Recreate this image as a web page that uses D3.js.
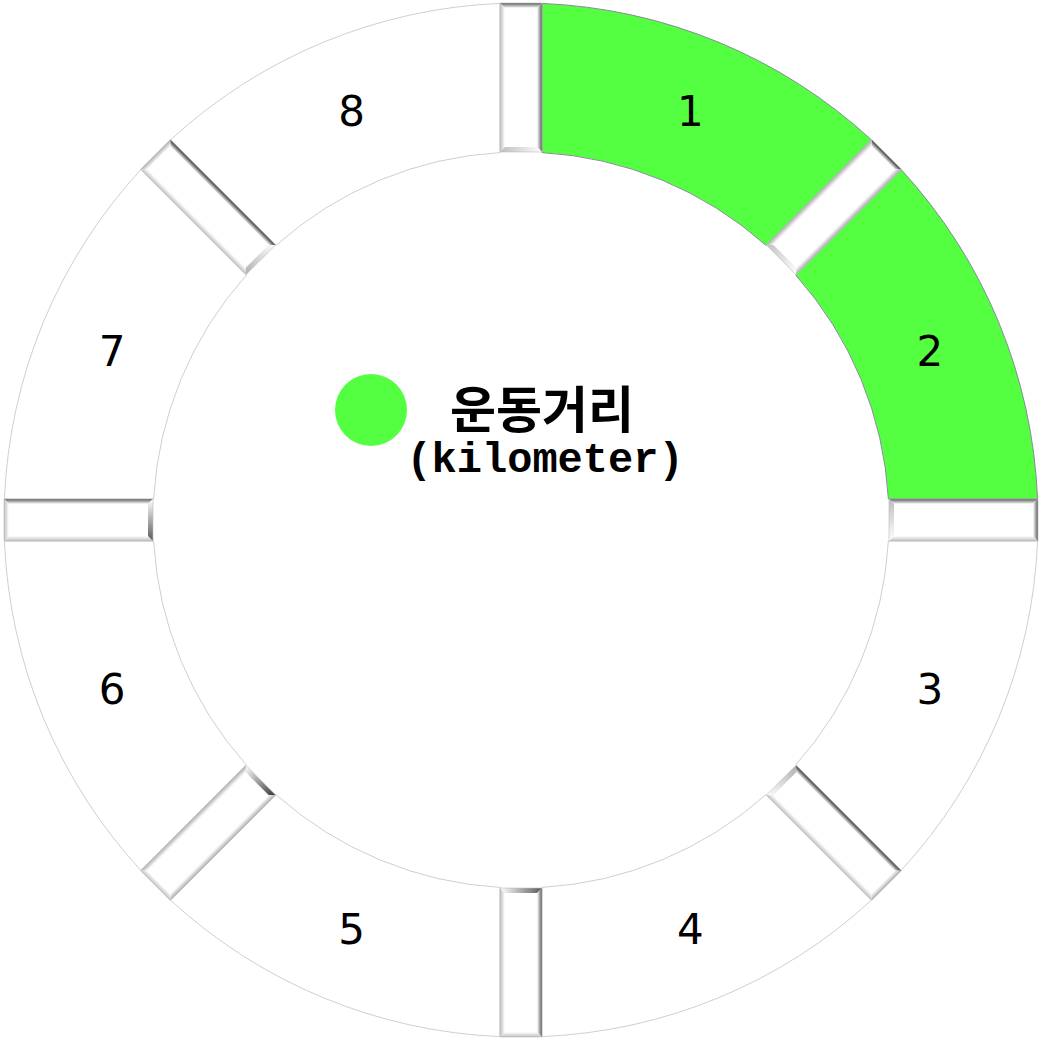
<!DOCTYPE html>
<html><head><meta charset="utf-8">
<script src="https://cdn.jsdelivr.net/npm/d3@7"></script>
<style>html,body{margin:0;padding:0;background:#fff;overflow:hidden}</style>
</head><body>
<svg id="chart" width="1043" height="1042"></svg>
<script>
const categories = ["1","2","3","4","5","6","7","8"];
const values = [1,1,1,1,1,1,1,1];
const active = [true,true,false,false,false,false,false,false];
const legendTitle = "운동거리";
const legendUnit = "(kilometer)";

const cx = 521, cy = 520, outerR = 517, innerR = 368, halfGap = 21, chamfer = 5;
const green = "#53ff40";

const svg = d3.select("#chart");
const defs = svg.append("defs");

const pie = d3.pie().sort(null).value(d=>d).startAngle(0).endAngle(2*Math.PI);
const arcs = pie(values);
const padAngle = 2*Math.asin(halfGap/outerR);
const arc = d3.arc().innerRadius(innerR).outerRadius(outerR).padAngle(padAngle).padRadius(outerR);

const g = svg.append("g").attr("transform",`translate(${cx},${cy})`);
g.selectAll("path.seg").data(arcs).join("path").attr("class","seg")
  .attr("d",arc)
  .attr("fill",(d,i)=>active[i]?green:"#fff")
  .attr("stroke",(d,i)=>active[i]?"#8a8a9a":"#cfcfcf").attr("stroke-width",1);

// shade for a face given its screen-space outward normal
function shade(nx, ny){
  const t = nx*0.707 + ny*(-0.707);
  const v = t>0 ? 175 - 120*t : 175 + 20*(-t);
  return d3.rgb(v,v,v).formatHex();
}

// gap bars with bevel faces
const bars = g.append("g");
let gid = 0;
arcs.forEach(d=>{
  const aDeg = d.startAngle*180/Math.PI;
  const a = d.startAngle;
  const bg = bars.append("g").attr("transform",`rotate(${aDeg})`);
  const x0=-halfGap, x1=halfGap, y0=-outerR, y1=-innerR, c=chamfer;
  bg.append("rect").attr("x",x0).attr("y",y0).attr("width",x1-x0).attr("height",y1-y0).attr("fill","#fff");
  // local normal -> screen normal: rotate by a (clockwise in screen)
  const faces = [
    {pts:[[x0,y0],[x0+c,y0+c],[x0+c,y1-c],[x0,y1]], n:[-1,0], gx:[0,1,0,0]},
    {pts:[[x1,y0],[x1-c,y0+c],[x1-c,y1-c],[x1,y1]], n:[1,0], gx:[1,0,0,0]},
    {pts:[[x0,y0],[x1,y0],[x1-c,y0+c],[x0+c,y0+c]], n:[0,-1], gx:[0,0,0,1]},
    {pts:[[x0,y1],[x1,y1],[x1-c,y1-c],[x0+c,y1-c]], n:[0,1], gx:[0,1,0,0]}
  ];
  faces.forEach(fc=>{
    const nx = fc.n[0]*Math.cos(a) - fc.n[1]*Math.sin(a);
    const ny = fc.n[0]*Math.sin(a) + fc.n[1]*Math.cos(a);
    const col = shade(nx, ny);
    const id = "gr"+(gid++);
    const lg = defs.append("linearGradient").attr("id",id)
      .attr("x1",fc.gx[0]).attr("y1",fc.gx[2]).attr("x2",fc.gx[1]).attr("y2",fc.gx[3]);
    lg.append("stop").attr("offset",0).attr("stop-color",col);
    lg.append("stop").attr("offset",1).attr("stop-color","#fff");
    bg.append("polygon").attr("points",fc.pts.map(p=>p.join(",")).join(" ")).attr("fill",`url(#${id})`);
  });
  // thin edge line on dark sides
  bg.append("rect").attr("x",x0).attr("y",y0).attr("width",x1-x0).attr("height",y1-y0)
    .attr("fill","none").attr("stroke","#bbb").attr("stroke-width",0.6);
});

// labels
const labelArc = d3.arc().innerRadius((innerR+outerR)/2).outerRadius((innerR+outerR)/2);
g.selectAll("text.lbl").data(arcs).join("text").attr("class","lbl")
  .attr("transform",d=>`translate(${labelArc.centroid(d)})`)
  .attr("text-anchor","middle").attr("dy","0.36em")
  .attr("font-family","DejaVu Sans").attr("font-size",42).attr("fill","#000")
  .text((d,i)=>categories[i]);

// legend
svg.append("circle").attr("cx",371).attr("cy",410).attr("r",36).attr("fill",green);
svg.append("text").attr("x",542).attr("y",428).attr("text-anchor","middle")
  .attr("font-family","Noto Sans CJK KR").attr("font-weight","bold").attr("font-size",50).text(legendTitle);
svg.append("text").attr("x",545).attr("y",472).attr("text-anchor","middle")
  .attr("font-family","Liberation Mono").attr("font-weight","bold").attr("font-size",42).text(legendUnit);
</script>
</body></html>
